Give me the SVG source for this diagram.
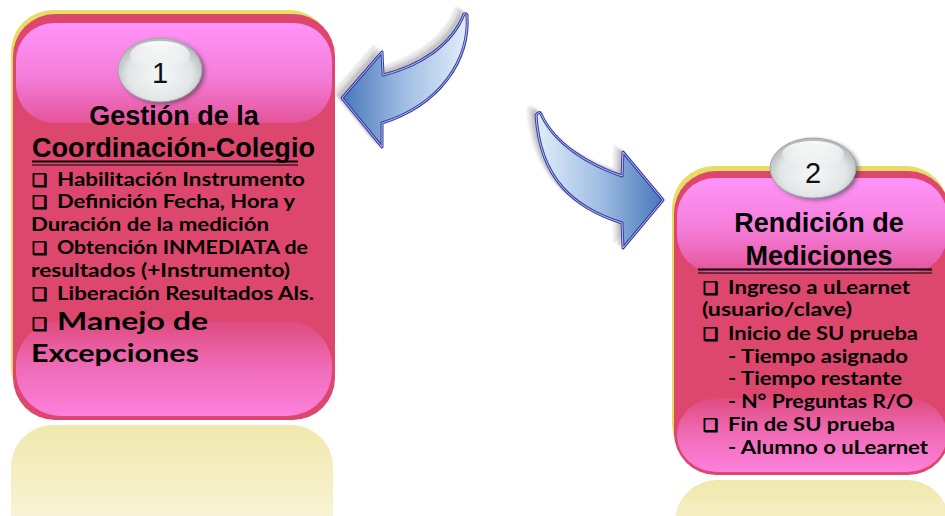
<svg xmlns="http://www.w3.org/2000/svg" width="945" height="516" viewBox="0 0 945 516">
<defs>
<style>
.yel{fill:#e8dc64}
.red{fill:#dd466d}
.hi{fill:url(#gHi)}
.lo{fill:url(#gLo)}
.refl{fill:url(#gRefl)}
.title{font-family:"Liberation Sans",Arial,sans-serif;font-weight:bold;font-size:27px;fill:#000;text-anchor:middle}
.num{font-family:"Liberation Sans",Arial,sans-serif;font-size:29px;fill:#111;text-anchor:middle}
.item{font-family:Lato,"Open Sans",sans-serif;font-weight:bold;font-size:19.5px;fill:#000}
.big{font-family:Lato,"Open Sans",sans-serif;font-weight:bold;font-size:25px;fill:#000}
.box{font-family:"DejaVu Sans",sans-serif;font-size:17px;fill:#000;stroke:#000;stroke-width:1}
.ul1{stroke:#000;stroke-width:2}
.ul2{stroke:#000;stroke-width:1}
.arrowOut{stroke:#3a3fa6;stroke-width:3;stroke-linejoin:round}
.arrowIn{fill:none;stroke:#c4cff0;stroke-width:0.9;stroke-linejoin:round}
.shadow{fill:#9a9a9a;stroke:#9a9a9a;stroke-width:2;stroke-linejoin:round}
</style>
<linearGradient id="gHi" x1="0" y1="0" x2="0" y2="1">
<stop offset="0" stop-color="#ff94fa"/>
<stop offset="0.55" stop-color="#f47cd8"/>
<stop offset="1" stop-color="#e4549a"/>
</linearGradient>
<linearGradient id="gLo" x1="0" y1="0" x2="0" y2="1">
<stop offset="0" stop-color="#de4c80"/>
<stop offset="0.5" stop-color="#f06cb8"/>
<stop offset="1" stop-color="#fd80dc"/>
</linearGradient>
<linearGradient id="gRefl" x1="0" y1="0" x2="0" y2="1">
<stop offset="0" stop-color="#f1e8ac"/>
<stop offset="1" stop-color="#fbf8e6"/>
</linearGradient>
<radialGradient id="gBadge" cx="0.5" cy="0.58" r="0.55">
<stop offset="0" stop-color="#f6f8f8"/>
<stop offset="0.7" stop-color="#e2e6e7"/>
<stop offset="1" stop-color="#b6babc"/>
</radialGradient>
<linearGradient id="gBadgeHi" x1="0" y1="0" x2="0" y2="1">
<stop offset="0" stop-color="#ffffff" stop-opacity="0.95"/>
<stop offset="1" stop-color="#ffffff" stop-opacity="0"/>
</linearGradient>
<linearGradient id="gA1" gradientUnits="userSpaceOnUse" x1="342" y1="0" x2="465" y2="0">
<stop offset="0" stop-color="#4777b9"/>
<stop offset="0.5" stop-color="#9fbde3"/>
<stop offset="1" stop-color="#e0ecf9"/>
</linearGradient>
<linearGradient id="gA2" gradientUnits="userSpaceOnUse" x1="538" y1="0" x2="663" y2="0">
<stop offset="0" stop-color="#e0ecf9"/>
<stop offset="0.5" stop-color="#9fbde3"/>
<stop offset="1" stop-color="#4777b9"/>
</linearGradient>
<filter id="blur1" x="-10%" y="-10%" width="120%" height="120%"><feGaussianBlur stdDeviation="1.2"/></filter>
<filter id="blur2" x="-20%" y="-20%" width="140%" height="140%"><feGaussianBlur stdDeviation="2"/></filter>
<path id="a1" d="M342,98 L382,52 L383,75 C420,66 452,45 464,14 Q466,13 467,15 C470,60 440,105 382,123 L382,147 Z"/>
<path id="a2" d="M538,113 Q540,112 541,114 C555,145 590,165 622,176 L623,152 L663,200 L623,248 L622,223 C575,208 540,180 536,115 Z"/>
</defs>

<g id="node1">
<rect class="refl" x="11" y="425" width="322" height="130" rx="42"/>
<rect class="yel" x="11" y="10" width="320" height="400" rx="42"/>
<rect class="red" x="13" y="14" width="322" height="406" rx="42"/>
<rect class="hi" x="16" y="23" width="316" height="100" rx="38"/>
<rect class="lo" x="16" y="321" width="316" height="95" rx="45"/>
<ellipse cx="163" cy="72" rx="42" ry="32" fill="#333" opacity="0.55" filter="url(#blur2)"/>
<ellipse cx="160" cy="70" rx="42" ry="32" fill="url(#gBadge)" stroke="#a4a8aa" stroke-width="1"/>
<ellipse cx="160" cy="55" rx="30" ry="14" fill="url(#gBadgeHi)"/>
<text class="num" x="160" y="83">1</text>
<text class="title" x="174" y="125">Gestión de la</text>
<text class="title" x="173.5" y="157" textLength="283" lengthAdjust="spacingAndGlyphs">Coordinación-Colegio</text>
<line class="ul1" x1="32" y1="161.5" x2="298" y2="161.5"/>
<line class="ul2" x1="32" y1="165" x2="298" y2="165"/>
<text class="box" x="32" y="186">❑</text>
<text class="item" x="57" y="186" textLength="248" lengthAdjust="spacingAndGlyphs">Habilitación Instrumento</text>
<text class="box" x="32" y="208">❑</text>
<text class="item" x="57" y="208" textLength="238" lengthAdjust="spacingAndGlyphs">Definición Fecha, Hora y</text>
<text class="item" x="31" y="231" textLength="238" lengthAdjust="spacingAndGlyphs">Duración de la medición</text>
<text class="box" x="32" y="254">❑</text>
<text class="item" x="57" y="254" textLength="251" lengthAdjust="spacingAndGlyphs">Obtención INMEDIATA de</text>
<text class="item" x="31" y="277" textLength="259" lengthAdjust="spacingAndGlyphs">resultados (+Instrumento)</text>
<text class="box" x="32" y="300">❑</text>
<text class="item" x="57" y="300" textLength="257" lengthAdjust="spacingAndGlyphs">Liberación Resultados Als.</text>
<text class="box" x="32" y="330">❑</text>
<text class="big" x="57" y="330" textLength="151" lengthAdjust="spacingAndGlyphs">Manejo de</text>
<text class="big" x="31" y="362" textLength="168" lengthAdjust="spacingAndGlyphs">Excepciones</text>
</g>

<g id="node2">
<rect class="refl" x="675" y="480" width="274" height="90" rx="42"/>
<rect class="yel" x="672" y="166" width="276" height="300" rx="42"/>
<rect class="red" x="674" y="171" width="276" height="304" rx="42"/>
<rect class="hi" x="677" y="178" width="270" height="95" rx="38"/>
<rect class="lo" x="677" y="398" width="270" height="74" rx="40"/>
<ellipse cx="816" cy="170" rx="43" ry="30" fill="#333" opacity="0.55" filter="url(#blur2)"/>
<ellipse cx="813" cy="168" rx="43" ry="30" fill="url(#gBadge)" stroke="#a4a8aa" stroke-width="1"/>
<ellipse cx="813" cy="154" rx="31" ry="13" fill="url(#gBadgeHi)"/>
<text class="num" x="813" y="183">2</text>
<text class="title" x="819" y="232">Rendición de</text>
<text class="title" x="819" y="265">Mediciones</text>
<line class="ul1" x1="698" y1="269.5" x2="932" y2="269.5"/>
<line class="ul2" x1="698" y1="273" x2="932" y2="273"/>
<text class="box" x="703" y="294">❑</text>
<text class="item" x="728" y="294" textLength="182" lengthAdjust="spacingAndGlyphs">Ingreso a uLearnet</text>
<text class="item" x="702" y="316" textLength="150" lengthAdjust="spacingAndGlyphs">(usuario/clave)</text>
<text class="box" x="703" y="340">❑</text>
<text class="item" x="728" y="340" textLength="190" lengthAdjust="spacingAndGlyphs">Inicio de SU prueba</text>
<text class="item" x="728" y="363" textLength="180" lengthAdjust="spacingAndGlyphs">- Tiempo asignado</text>
<text class="item" x="728" y="385" textLength="174" lengthAdjust="spacingAndGlyphs">- Tiempo restante</text>
<text class="item" x="728" y="408" textLength="185" lengthAdjust="spacingAndGlyphs">- N° Preguntas R/O</text>
<text class="box" x="703" y="431">❑</text>
<text class="item" x="728" y="431" textLength="167" lengthAdjust="spacingAndGlyphs">Fin de SU prueba</text>
<text class="item" x="728" y="454" textLength="200" lengthAdjust="spacingAndGlyphs">- Alumno o uLearnet</text>
</g>

<g id="connectors">
<g id="arrow1">
<use href="#a1" class="shadow" opacity="0.25" transform="translate(-8,-6)" filter="url(#blur1)"/>
<use href="#a1" class="shadow" opacity="0.45" transform="translate(-4,-3)" filter="url(#blur1)"/>
<use href="#a1" class="arrowOut" fill="url(#gA1)"/>
<use href="#a1" class="arrowIn"/>
</g>
<g id="arrow2">
<use href="#a2" class="shadow" opacity="0.25" transform="translate(-8,-6)" filter="url(#blur1)"/>
<use href="#a2" class="shadow" opacity="0.45" transform="translate(-4,-3)" filter="url(#blur1)"/>
<use href="#a2" class="arrowOut" fill="url(#gA2)"/>
<use href="#a2" class="arrowIn"/>
</g>
</g>
</svg>
